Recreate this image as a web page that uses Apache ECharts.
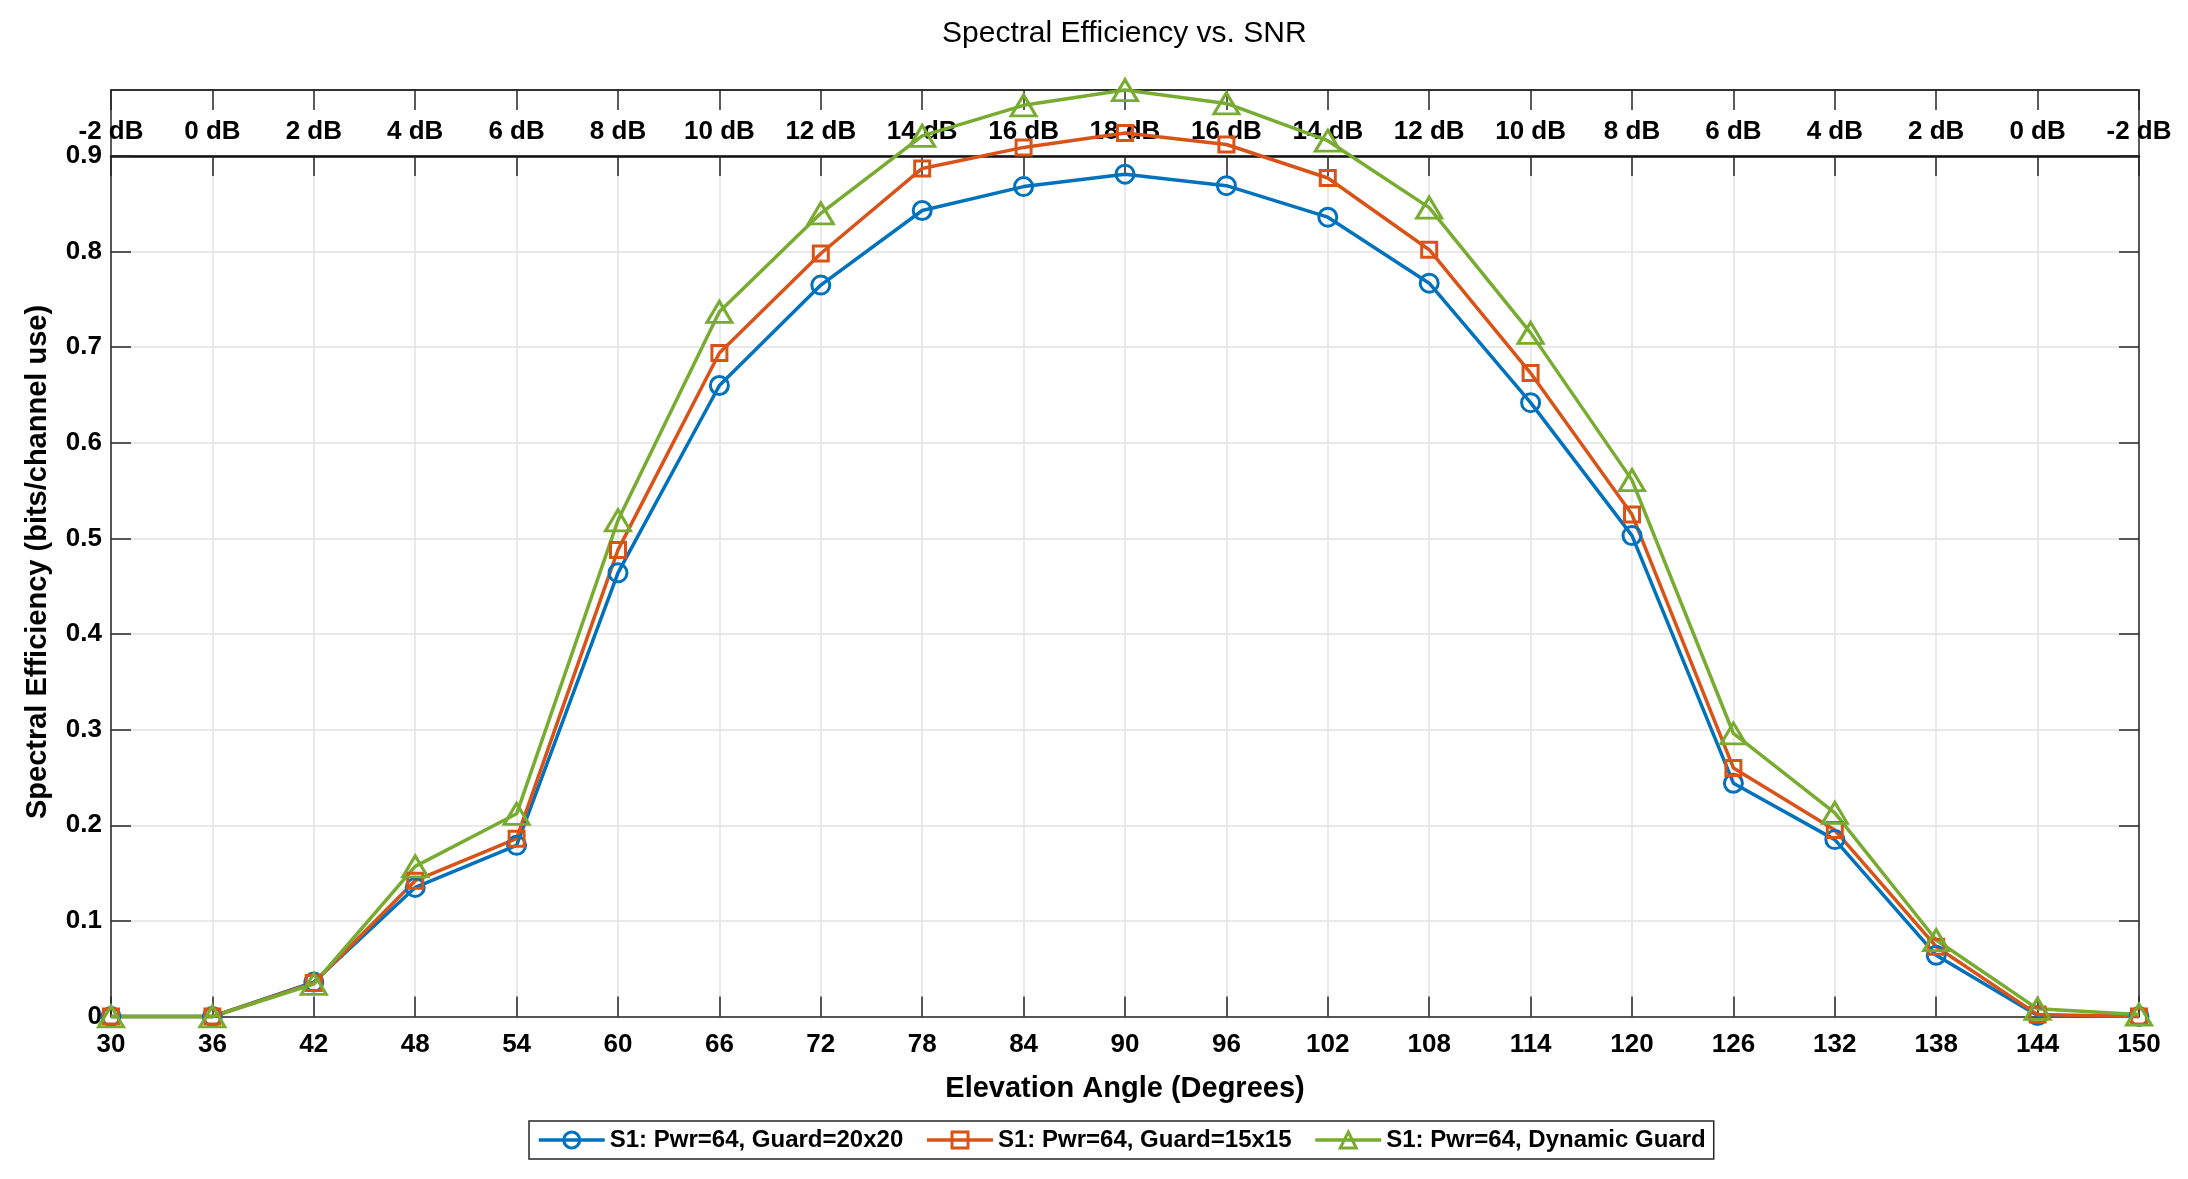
<!DOCTYPE html>
<html>
<head>
<meta charset="utf-8">
<script src="https://cdn.jsdelivr.net/npm/echarts@6/dist/echarts.min.js"></script>
<style>
html,body{margin:0;padding:0;background:#fff;}
#chart{width:2188px;height:1179px;}
</style>
</head>
<body>
<div id="chart"></div>
<script>
const angles = [30,36,42,48,54,60,66,72,78,84,90,96,102,108,114,120,126,132,138,144,150];
const snrLabels = ['-2 dB','0 dB','2 dB','4 dB','6 dB','8 dB','10 dB','12 dB','14 dB','16 dB','18 dB','16 dB','14 dB','12 dB','10 dB','8 dB','6 dB','4 dB','2 dB','0 dB','-2 dB'];
const guard20 = [0,0,0.036,0.135,0.179,0.464,0.660,0.765,0.843,0.868,0.881,0.869,0.836,0.767,0.642,0.503,0.244,0.185,0.064,0.001,0];
const guard15 = [0,0,0.035,0.142,0.186,0.488,0.694,0.798,0.887,0.909,0.924,0.912,0.877,0.802,0.673,0.525,0.260,0.195,0.073,0.002,0];
const dynamic = [0,0,0.034,0.157,0.212,0.519,0.737,0.840,0.921,0.953,0.969,0.955,0.916,0.846,0.715,0.561,0.296,0.213,0.080,0.008,0.002];
const seriesNames = ['S1: Pwr=64, Guard=20x20','S1: Pwr=64, Guard=15x15','S1: Pwr=64, Dynamic Guard'];
const colors = ['#0072BD','#D95319','#77AC30'];

const FONT = 'Liberation Sans, Arial, sans-serif';
const AX = '#262626';
const GRIDC = '#e2e2e2';

function pairs(vals){ return angles.map((a,i)=>[a, vals[i]]); }

const chart = echarts.init(document.getElementById('chart'), null, {renderer:'canvas'});

function mkSeries(name, vals, color, symbol, size){
  return {
    name: name, type: 'line', xAxisIndex: 0, yAxisIndex: 0,
    data: pairs(vals), clip: false,
    symbol: symbol, symbolSize: size, showAllSymbol: true,
    lineStyle: {color: color, width: 3.5},
    itemStyle: {color: 'rgba(255,255,255,0)', borderColor: color, borderWidth: 3},
    emphasis: {disabled: true}, animation: false, z: 5
  };
}

const option = {
  backgroundColor: '#fff',
  animation: false,
  title: {
    text: 'Spectral Efficiency vs. SNR', left: 937, top: 14,
    textStyle: {fontFamily: FONT, fontSize: 30, fontWeight: 'normal', color: '#000'}
  },
  grid: [
    {left: 111, right: 49, top: 156, bottom: 162.5, show: false},
    {left: 111, right: 49, top: 90, height: 66, show: true, borderColor: AX, borderWidth: 1.5, backgroundColor: 'rgba(0,0,0,0)'}
  ],
  legend: {
    top: 1121, left: 529,
    orient: 'horizontal',
    itemWidth: 66, itemHeight: 20, itemGap: 22,
    padding: [7, 8],
    borderColor: AX, borderWidth: 1.5,
    lineStyle: {width: 3.5},
    itemStyle: {borderWidth: 3},
    textStyle: {fontFamily: FONT, fontSize: 24, fontWeight: 'bold', color: '#000'},
    data: seriesNames
  },
  xAxis: [
    {
      type: 'value', gridIndex: 0, position: 'bottom', min: 30, max: 150, interval: 6,
      name: 'Elevation Angle (Degrees)', nameLocation: 'middle', nameGap: 58,
      nameTextStyle: {fontFamily: FONT, fontSize: 29, fontWeight: 'bold', color: '#000'},
      axisLine: {show: true, onZero: false, lineStyle: {color: AX, width: 1.5}},
      axisTick: {show: true, inside: true, length: 20, lineStyle: {color: AX, width: 1.5}},
      axisLabel: {fontFamily: FONT, fontSize: 26, fontWeight: 'bold', color: '#000', margin: 15},
      splitLine: {show: true, lineStyle: {color: GRIDC, width: 1.5}}
    },
    {
      type: 'value', gridIndex: 0, position: 'top', min: 30, max: 150, interval: 6,
      axisLine: {show: true, onZero: false, lineStyle: {color: '#111', width: 2.5}},
      axisTick: {show: true, inside: true, length: 20, lineStyle: {color: AX, width: 1.5}},
      axisLabel: {show: false},
      splitLine: {show: false}
    },
    {
      type: 'value', gridIndex: 1, position: 'top', min: 30, max: 150, interval: 6,
      axisLine: {show: true, onZero: false, lineStyle: {color: AX, width: 1.5}},
      axisTick: {show: true, inside: true, length: 20, lineStyle: {color: AX, width: 1.5}},
      axisLabel: {
        inside: true, margin: 29, fontFamily: FONT, fontSize: 26, fontWeight: 'bold', color: '#000',
        showMinLabel: true, showMaxLabel: true,
        formatter: function(v){ return snrLabels[Math.round((v - 30) / 6)]; }
      },
      splitLine: {show: false}
    }
  ],
  yAxis: [
    {
      type: 'value', gridIndex: 0, position: 'left', min: 0, max: 0.9, interval: 0.1,
      axisLine: {show: true, onZero: false, lineStyle: {color: AX, width: 1.5}},
      axisTick: {show: true, inside: true, length: 20, lineStyle: {color: AX, width: 1.5}},
      axisLabel: {fontFamily: FONT, fontSize: 26, fontWeight: 'bold', color: '#000', margin: 9,
        formatter: function(v){ return v === 0 ? '0' : v.toFixed(1); }},
      splitLine: {show: true, lineStyle: {color: GRIDC, width: 1.5}}
    },
    {
      type: 'value', gridIndex: 0, position: 'right', min: 0, max: 0.9, interval: 0.1,
      axisLine: {show: true, onZero: false, lineStyle: {color: AX, width: 1.5}},
      axisTick: {show: true, inside: true, length: 20, lineStyle: {color: AX, width: 1.5}},
      axisLabel: {show: false},
      splitLine: {show: false}
    },
    {
      type: 'value', gridIndex: 1, show: false, min: 0, max: 1
    }
  ],
  graphic: [
    {
      type: 'text', rotation: Math.PI / 2,
      x: 38, y: 562,
      style: {text: 'Spectral Efficiency (bits/channel use)', fontFamily: FONT, fontSize: 29, fontWeight: 'bold', fill: '#000', textAlign: 'center', textVerticalAlign: 'middle'}
    }
  ],
  series: [
    mkSeries(seriesNames[0], guard20, colors[0], 'circle', 18),
    mkSeries(seriesNames[1], guard15, colors[1], 'rect', 15),
    mkSeries(seriesNames[2], dynamic, colors[2], 'triangle', [25, 21])
  ]
};
chart.setOption(option);
</script>
</body>
</html>
